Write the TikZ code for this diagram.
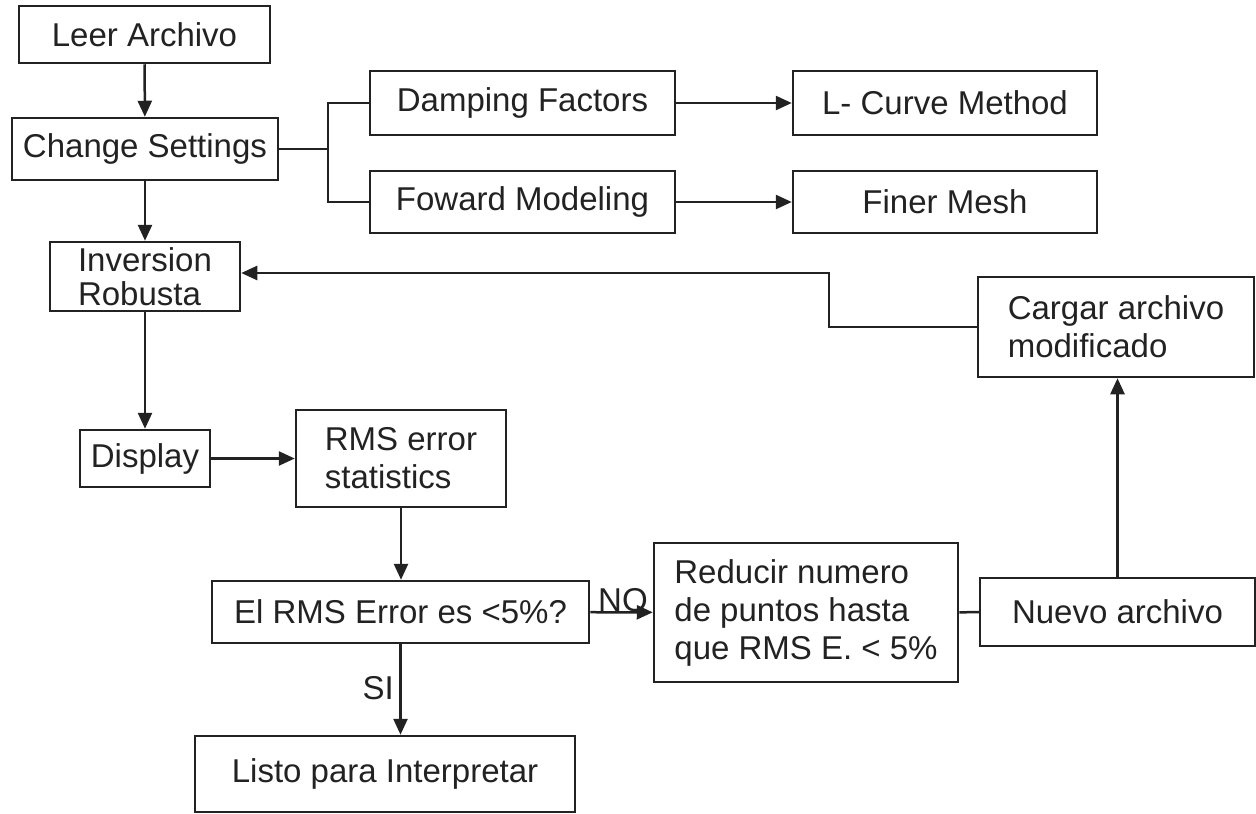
\documentclass[tikz,border=0pt]{standalone}
\usepackage{fontspec}
\setmainfont{Liberation Sans}
\usetikzlibrary{arrows.meta}
\definecolor{ink}{HTML}{222222}
\begin{document}
\begin{tikzpicture}[x=1pt,y=-1pt,
  box/.style={draw=ink, text=ink, line width=2.5pt, inner sep=0pt, font=\fontsize{33}{38}\selectfont},
  tight/.style={font=\fontsize{33}{34}\selectfont},
  conn/.style={draw=ink, line width=2.5pt},
  arr/.style={conn, -{Triangle[length=16pt,width=14pt]}},
  lbl/.style={text=ink, inner sep=0pt, font=\fontsize{33}{38}\selectfont}]
\useasboundingbox[fill=white] (0,0) rectangle (1256,814);

\node[box, minimum width=251pt, minimum height=57pt] (leer) at (144.5,34.5) {Leer Archivo};
\node[box, minimum width=266pt, minimum height=62pt] (change) at (145,149) {Change Settings};
\node[box, minimum width=305pt, minimum height=64pt] (damp) at (522.5,103) {Damping Factors};
\node[box, minimum width=304pt, minimum height=64pt] (lcurve) at (945,103) {L- Curve Method};
\node[box, minimum width=305pt, minimum height=62pt] (foward) at (522.5,202) {Foward Modeling};
\node[box, minimum width=304pt, minimum height=62pt] (finer) at (945,202) {Finer Mesh};
\node[box, tight, align=left, minimum width=190pt, minimum height=69pt] (inv) at (145,276.5) {Inversion\\Robusta};
\node[box, align=left, minimum width=276pt, minimum height=100pt] (cargar) at (1116,327) {Cargar archivo\\modificado};
\node[box, minimum width=130pt, minimum height=57pt] (display) at (145,458.5) {Display};
\node[box, align=left, minimum width=210pt, minimum height=97pt] (rms) at (401,458.5) {RMS error\\statistics};
\node[box, minimum width=377pt, minimum height=62pt] (elrms) at (400.5,612) {El RMS Error es <5\%?};
\node[box, align=left, minimum width=304pt, minimum height=139pt] (reducir) at (806,612.5) {Reducir numero\\de puntos hasta\\que RMS E. < 5\%};
\node[box, minimum width=275pt, minimum height=68pt] (nuevo) at (1117.5,612) {Nuevo archivo};
\node[box, minimum width=380pt, minimum height=76pt] (listo) at (385,774) {Listo para Interpretar};

\coordinate (br) at (328,149);
\coordinate (bend) at (829,273);

\draw[arr] (leer) -- (change);
\draw[conn] (change.east) -- (br);
\draw[conn] (damp.west) -| (br) |- (foward.west);
\draw[arr] (damp) -- (lcurve);
\draw[arr] (foward) -- (finer);
\draw[arr] (change) -- (inv);
\draw[arr] (inv) -- (display);
\draw[arr] (display) -- (rms);
\draw[arr] (rms.south) -- (rms.south |- elrms.north);
\draw[arr] (elrms) -- (reducir);
\draw[arr] (elrms.south) -- (elrms.south |- listo.north);
\draw[conn] (reducir) -- (nuevo);
\draw[arr] (nuevo.north) -- (nuevo.north |- cargar.south);
\draw[arr] (cargar.west) -| (bend) -- (inv.east |- bend);

\node[lbl, anchor=base west] (no) at (598,611) {NO};
\node[lbl, anchor=east] (si) at (394,688) {SI};
\end{tikzpicture}
\end{document}
